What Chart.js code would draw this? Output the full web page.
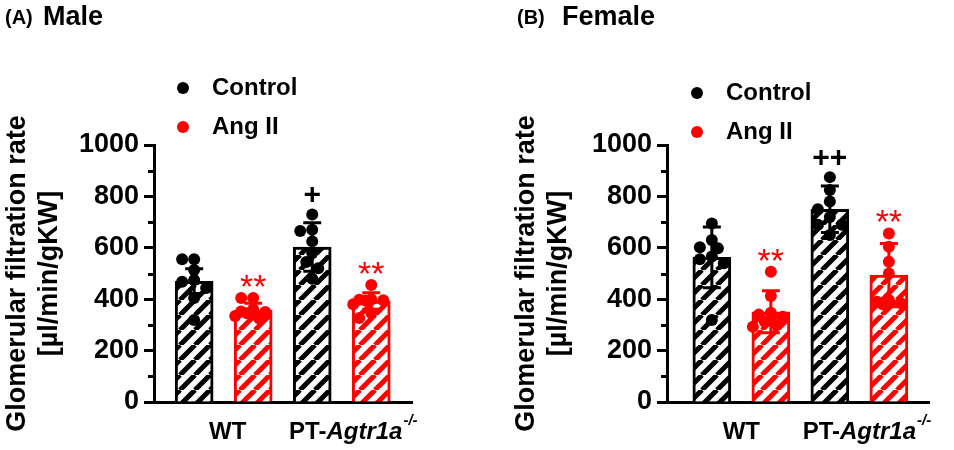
<!DOCTYPE html>
<html>
<head>
<meta charset="utf-8">
<title>Glomerular filtration rate</title>
<script src="https://cdn.jsdelivr.net/npm/chart.js@4.4.0/dist/chart.umd.min.js"></script>
<style>
  html, body { margin: 0; padding: 0; background: #fff; }
  #wrap { position: relative; width: 954px; height: 450px; }
  canvas { position: absolute; top: 0; }
</style>
</head>
<body>
<div id="wrap">
  <canvas id="male" width="477" height="450" style="left:0"></canvas>
  <canvas id="female" width="477" height="450" style="left:477px"></canvas>
</div>
<script>
const RED = "#ff0000";
const FONT = "'Liberation Sans', Arial, sans-serif";

// groups on the x axis and treatments in the legend
const groups = ["WT", "PT-Agtr1a-/-"];
const treatments = ["Control", "Ang II"];
// bar order: WT Control, WT Ang II, PT Control, PT Ang II
const barColors = ["#000000", RED, "#000000", RED];
const yTicks = [0, 200, 400, 600, 800, 1000];

// (A) Male
const maleMeans = [470, 358, 603, 393];
const maleSD = [48, 26, 94, 32];
const maleWTControl = [555, 555, 514, 475, 468, 444, 405, 319];
const maleWTAngII = [405, 405, 360, 352, 350, 345, 335, 325];
const malePTControl = [730, 670, 665, 625, 580, 545, 520, 480];
const malePTAngII = [455, 400, 398, 396, 395, 380, 346, 327];
const maleMarks = ["", "**", "+", "**"];

// (B) Female
const femaleMeans = [563, 351, 750, 494];
const femaleSD = [118, 82, 90, 123];
const femaleWTControl = [695, 630, 602, 598, 566, 555, 540, 319];
const femaleWTAngII = [507, 412, 347, 340, 332, 312, 300, 293];
const femalePTControl = [875, 825, 780, 750, 720, 690, 690, 650];
const femalePTAngII = [656, 604, 546, 500, 397, 390, 384, 380];
const femaleMarks = ["", "**", "++", "**"];

function hatch(color) {
    const c = document.createElement("canvas");
    c.width = c.height = 15;
    const g = c.getContext("2d");
    g.fillStyle = "#fff";
    g.fillRect(0, 0, 15, 15);
    g.strokeStyle = color;
    g.lineWidth = 5;
    g.beginPath();
    for (const k of [-15, 0, 15]) {
        g.moveTo(k, 15);
        g.lineTo(k + 15, 0);
    }
    g.stroke();
    return g.createPattern(c, "repeat");
}

// small beeswarm so points with close values spread sideways (points may overlap a bit)
function swarm(values, center) {
    const pxX = 59, pxY = 0.257;
    const steps = [0, -1, 1, -2, 2, -3, 3];
    const placed = [];
    return values.map(v => {
        let best = 0, bestGap = -1;
        for (const s of steps) {
            const d = s * 6;
            const gap = Math.min(99, ...placed.map(p => Math.hypot(p.dx - d, (p.v - v) * pxY)));
            if (gap >= 10) { best = d; break; }
            if (gap > bestGap) { bestGap = gap; best = d; }
        }
        placed.push({ dx: best, v });
        return { x: center + best / pxX, y: v };
    });
}

const panelDecor = {
    id: "panelDecor",
    afterDatasetsDraw(chart, args, opts) {
        const { ctx, scales: { y } } = chart;
        const meta = chart.getDatasetMeta(0);
        ctx.save();
        ctx.lineWidth = 3;
        meta.data.forEach((bar, i) => {
            const top = y.getPixelForValue(opts.means[i] + opts.sd[i]);
            const bot = y.getPixelForValue(opts.means[i] - opts.sd[i]);
            ctx.strokeStyle = barColors[i];
            ctx.beginPath();
            ctx.moveTo(bar.x, top); ctx.lineTo(bar.x, bot);
            ctx.moveTo(bar.x - 9, top); ctx.lineTo(bar.x + 9, top);
            ctx.moveTo(bar.x - 9, bot); ctx.lineTo(bar.x + 9, bot);
            ctx.stroke();
        });
        ctx.restore();
    },
    afterDraw(chart, args, opts) {
        const { ctx, scales: { x, y } } = chart;
        ctx.save();
        // minor ticks
        ctx.strokeStyle = "#000";
        ctx.lineWidth = 3;
        ctx.beginPath();
        for (let v = 100; v < 1000; v += 200) {
            const py = Math.round(y.getPixelForValue(v)) + 0.5;
            ctx.moveTo(x.left - 6, py);
            ctx.lineTo(x.left, py);
        }
        ctx.stroke();

        // panel title
        ctx.fillStyle = "#000";
        ctx.textBaseline = "alphabetic";
        ctx.font = "bold 20px " + FONT;
        ctx.fillText(opts.letter, opts.letterX, 24);
        ctx.font = "bold 27px " + FONT;
        ctx.fillText(opts.title, opts.titleX, 25);

        // legend
        ctx.font = "bold 24px " + FONT;
        ctx.textBaseline = "middle";
        treatments.forEach((t, i) => {
            const cy = opts.legendY + i * 39;
            ctx.fillStyle = i === 0 ? "#000" : RED;
            ctx.beginPath();
            ctx.arc(opts.legendX, cy, 6, 0, Math.PI * 2);
            ctx.fill();
            ctx.fillStyle = "#000";
            ctx.fillText(t, opts.legendX + 29, cy);
        });

        // significance marks above each bar
        ctx.textAlign = "center";
        ctx.textBaseline = "alphabetic";
        opts.marks.forEach((m, i) => {
            if (!m) return;
            const star = m.includes("*");
            ctx.font = (star ? "34px " : "bold 30px ") + FONT;
            const top = Math.max(opts.means[i] + opts.sd[i], ...opts.points[i]);
            const cy = y.getPixelForValue(top) - 20;
            ctx.fillStyle = barColors[i];
            ctx.fillText(m, x.getPixelForValue(i), cy + (star ? 20 : 10));
        });

        // group labels
        const ly = 432;
        ctx.fillStyle = "#000";
        ctx.textBaseline = "middle";
        ctx.font = "bold 24px " + FONT;
        ctx.fillText(groups[0], x.getPixelForValue(0.5) + opts.labelShift, ly);
        ctx.textAlign = "left";
        const fPlain = "bold 24px " + FONT, fItal = "italic bold 24px " + FONT, fSup = "italic bold 15px " + FONT;
        ctx.font = fPlain; const w1 = ctx.measureText("PT-").width;
        ctx.font = fItal; const w2 = ctx.measureText("Agtr1a").width;
        let sx = x.getPixelForValue(2.5) + opts.labelShift - (w1 + w2) / 2;
        ctx.font = fPlain; ctx.fillText("PT-", sx, ly);
        ctx.font = fItal; ctx.fillText("Agtr1a", sx + w1, ly);
        ctx.font = fSup; ctx.fillText("-/-", sx + w1 + w2 + 1, ly - 11);
        ctx.restore();
    }
};

function buildPanel(id, means, sd, pointSets, marks, lay) {
    const datasets = [{
        type: "bar",
        data: means.map((m, i) => ({ x: i, y: m })),
        backgroundColor: barColors.map(c => hatch(c)),
        borderColor: barColors,
        borderWidth: 3,
        barThickness: 38,
        order: 2
    }];
    pointSets.forEach((vals, i) => {
        datasets.push({
            type: "scatter",
            data: swarm(vals, i),
            backgroundColor: barColors[i],
            borderColor: barColors[i],
            borderWidth: 0,
            pointRadius: 6,
            pointHoverRadius: 6,
            order: 1
        });
    });
    return new Chart(document.getElementById(id), {
        type: "bar",
        data: { datasets },
        options: {
            responsive: false,
            animation: false,
            events: [],
            layout: { padding: { left: 0, top: 145, right: lay.padRight, bottom: 48 } },
            plugins: {
                legend: { display: false },
                tooltip: { enabled: false },
                panelDecor: {
                    letter: lay.letter, title: lay.title, letterX: lay.letterX, titleX: lay.titleX,
                    legendX: lay.legendX, legendY: lay.legendY, labelShift: lay.labelShift,
                    means, sd, points: pointSets, marks
                }
            },
            scales: {
                x: {
                    type: "linear",
                    min: lay.xMin,
                    max: lay.xMax,
                    offset: false,
                    ticks: { display: false },
                    grid: { display: false },
                    border: { display: true, width: 3, color: "#000" },
                    afterFit: s => { s.height = 0; }
                },
                y: {
                    min: 0,
                    max: 1000,
                    afterBuildTicks: s => { s.ticks = yTicks.map(v => ({ value: v })); },
                    ticks: {
                        color: "#000",
                        padding: 5,
                        font: { family: FONT, weight: "bold", size: 27 },
                        callback: v => String(v)
                    },
                    grid: { drawOnChartArea: false, drawTicks: true, tickLength: 10, tickWidth: 3, tickColor: "#000" },
                    border: { display: true, width: 3, color: "#000" },
                    title: {
                        display: true,
                        text: ["Glomerular filtration rate", "[\u00b5l/min/gKW]"],
                        color: "#000",
                        font: { family: FONT, weight: "bold", size: 27 },
                        padding: { top: lay.titlePad, bottom: 0 }
                    },
                    afterFit: s => { s.width = lay.axisX; }
                }
            }
        },
        plugins: [panelDecor]
    });
}

buildPanel("male", maleMeans, maleSD,
    [maleWTControl, maleWTAngII, malePTControl, malePTAngII], maleMarks,
    { letter: "(A)", title: "Male", letterX: 5, titleX: 43, legendX: 183, legendY: 88,
      axisX: 154, padRight: 65, xMin: -0.68, xMax: 3.69, titlePad: 1, labelShift: 4 });

buildPanel("female", femaleMeans, femaleSD,
    [femaleWTControl, femaleWTAngII, femalePTControl, femalePTAngII], femaleMarks,
    { letter: "(B)", title: "Female", letterX: 40, titleX: 85, legendX: 220, legendY: 93,
      axisX: 190, padRight: 25, xMin: -0.76, xMax: 3.68, titlePad: 33, labelShift: 0 });
</script>
</body>
</html>
